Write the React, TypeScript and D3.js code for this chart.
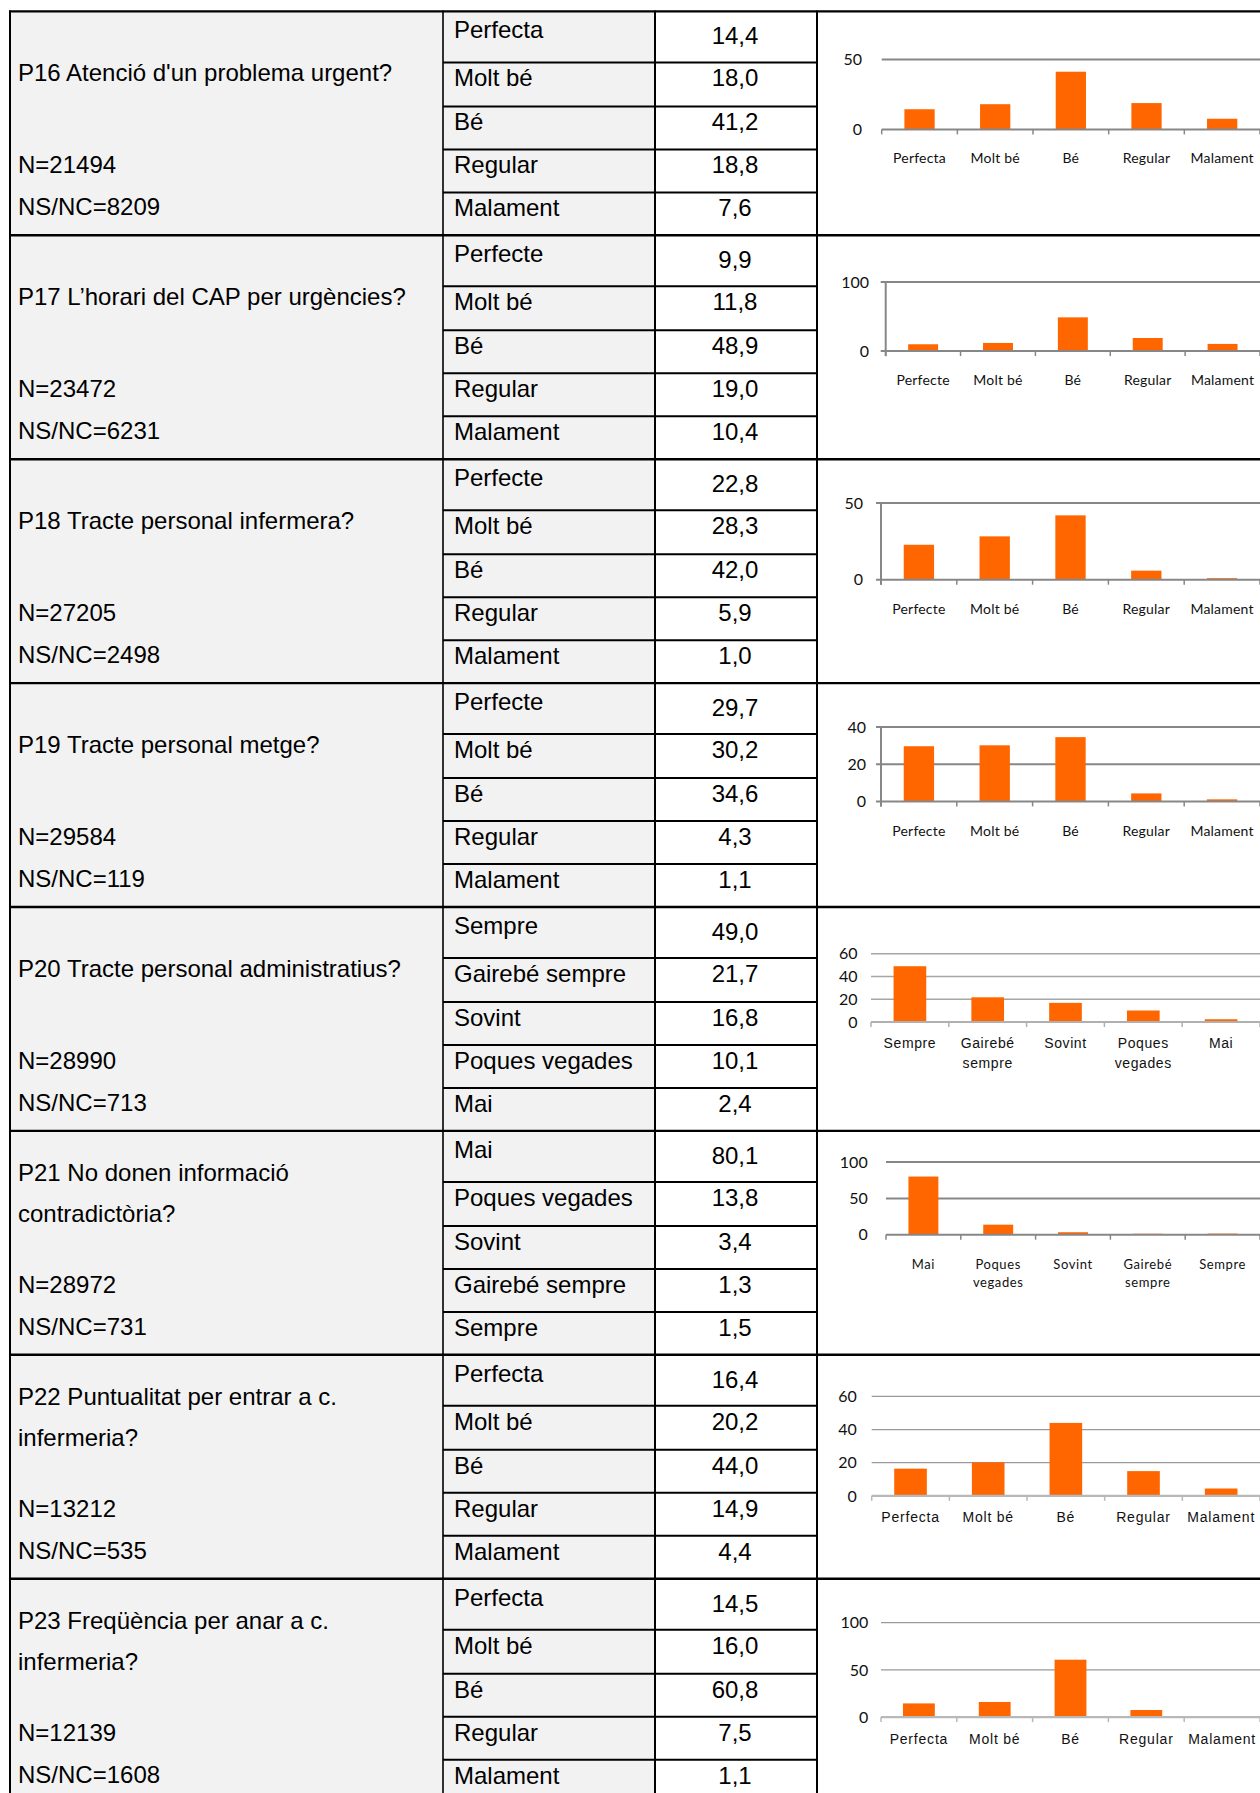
import React from 'react';
import * as d3 from 'd3';

// ---------- data ----------
const questionLines: string[][] = [
  ["P16 Atenció d'un problema urgent?"],
  ["P17 L’horari del CAP per urgències?"],
  ["P18 Tracte personal infermera?"],
  ["P19 Tracte personal metge?"],
  ["P20 Tracte personal administratius?"],
  ["P21 No donen informació", "contradictòria?"],
  ["P22 Puntualitat per entrar a c.", "infermeria?"],
  ["P23 Freqüència per anar a c.", "infermeria?"],
];
const nValues = [21494, 23472, 27205, 29584, 28990, 28972, 13212, 12139];
const nsncValues = [8209, 6231, 2498, 119, 713, 731, 535, 1608];

const catsPerfecta = ["Perfecta", "Molt bé", "Bé", "Regular", "Malament"];
const catsPerfecte = ["Perfecte", "Molt bé", "Bé", "Regular", "Malament"];
const catsSempre = ["Sempre", "Gairebé sempre", "Sovint", "Poques vegades", "Mai"];
const catsMai = ["Mai", "Poques vegades", "Sovint", "Gairebé sempre", "Sempre"];

const categories: string[][] = [
  catsPerfecta, catsPerfecte, catsPerfecte, catsPerfecte,
  catsSempre, catsMai, catsPerfecta, catsPerfecta,
];

const p16 = [14.4, 18.0, 41.2, 18.8, 7.6];
const p17 = [9.9, 11.8, 48.9, 19.0, 10.4];
const p18 = [22.8, 28.3, 42.0, 5.9, 1.0];
const p19 = [29.7, 30.2, 34.6, 4.3, 1.1];
const p20 = [49.0, 21.7, 16.8, 10.1, 2.4];
const p21 = [80.1, 13.8, 3.4, 1.3, 1.5];
const p22 = [16.4, 20.2, 44.0, 14.9, 4.4];
const p23 = [14.5, 16.0, 60.8, 7.5, 1.1];
const percentages = [p16, p17, p18, p19, p20, p21, p22, p23];

const yTicks: number[][] = [
  [0, 50], [0, 100], [0, 50], [0, 20, 40],
  [0, 20, 40, 60], [0, 50, 100], [0, 20, 40, 60], [0, 50, 100],
];

// ---------- layout (positions / styles) ----------
type Layout = {
  x0: number; yTop: number; yZero: number; labelY: number; lineGap: number;
  yLabelRight: number; vAxis: boolean; pad: number;
  gridColor: string; gridW: number; axisColor: string; axisW: number;
  xFont: string; xSize: number; xSpacing: number;
};
const calibri = "Lato, 'Open Sans', sans-serif";
const arial = "'Liberation Sans', Arial, sans-serif";
const styleA = { gridColor: '#878787', gridW: 2, axisColor: '#878787', axisW: 2, xFont: calibri, xSize: 14, xSpacing: 0.2 };
const layouts: Layout[] = [
  { x0: 881.7, yTop: 48, yZero: 118, labelY: 152, lineGap: 0, yLabelRight: 862, vAxis: false, pad: 0.6, ...styleA },
  { x0: 885.7, yTop: 46.8, yZero: 115.8, labelY: 150, lineGap: 0, yLabelRight: 869, vAxis: true, pad: 0.6, ...styleA },
  { x0: 881, yTop: 43.9, yZero: 120.5, labelY: 155, lineGap: 0, yLabelRight: 863, vAxis: true, pad: 0.6, ...styleA },
  { x0: 881, yTop: 44, yZero: 118.3, labelY: 153.3, lineGap: 0, yLabelRight: 866, vAxis: true, pad: 0.6, ...styleA },
  { x0: 871, yTop: 46.7, yZero: 115, labelY: 141.4, lineGap: 20, yLabelRight: 857.5, vAxis: false, pad: 0.58,
    gridColor: '#a6a6a6', gridW: 1.5, axisColor: '#b0b0b0', axisW: 2, xFont: arial, xSize: 14, xSpacing: 0.6 },
  { x0: 886, yTop: 31.2, yZero: 103.8, labelY: 138.5, lineGap: 17.5, yLabelRight: 867.7, vAxis: false, pad: 0.6,
    gridColor: '#878787', gridW: 2, axisColor: '#878787', axisW: 2, xFont: calibri, xSize: 13, xSpacing: 0.6 },
  { x0: 871.7, yTop: 41.6, yZero: 141, labelY: 167.3, lineGap: 0, yLabelRight: 856.7, vAxis: false, pad: 0.58,
    gridColor: '#9a9a9a', gridW: 1.2, axisColor: '#b8b8b8', axisW: 2.2, xFont: arial, xSize: 14, xSpacing: 0.8 },
  { x0: 881, yTop: 44, yZero: 138.4, labelY: 165.7, lineGap: 0, yLabelRight: 868.3, vAxis: false, pad: 0.58,
    gridColor: '#9a9a9a', gridW: 1.2, axisColor: '#b8b8b8', axisW: 2.2, xFont: arial, xSize: 14, xSpacing: 0.8 },
];

const W = 1260;
const H = 1793;
const ROW0 = 11.4;
const ROWH = 223.9;
const COLX = [10, 443, 655, 817];
const SUBOFF = [0, 51, 95, 138, 181, ROWH];
const BAR = '#ff6600';

const fmt = (v: number) => d3.format('.1f')(v).replace('.', ',');

function Chart({ i, top }: { i: number; top: number }) {
  const L = layouts[i];
  const cats = categories[i];
  const vals = percentages[i];
  const ticks = yTicks[i];
  const maxT = d3.max(ticks) as number;
  const y = d3.scaleLinear().domain([0, maxT]).range([top + L.yZero, top + L.yTop]);
  const x = d3.scaleBand<string>().domain(cats).range([L.x0, W]).paddingInner(L.pad).paddingOuter(L.pad / 2);
  const step = x.step();
  const bw = x.bandwidth();
  const gx0 = L.vAxis ? L.x0 - 5 : L.x0;
  const twoLine = L.lineGap > 0;
  return (
    <g>
      {ticks.filter(t => t > 0).map(t => (
        <line key={'g' + t} x1={gx0} x2={W} y1={y(t)} y2={y(t)} stroke={L.gridColor} strokeWidth={L.gridW} />
      ))}
      {cats.map((c, k) => {
        const v = vals[k];
        return (
          <rect key={'b' + k} x={x(c)} y={y(v)} width={bw} height={y(0) - y(v)} fill={BAR} />
        );
      })}
      <line x1={gx0} x2={W} y1={y(0)} y2={y(0)} stroke={L.axisColor} strokeWidth={L.axisW} />
      {L.vAxis && (
        <line x1={L.x0} x2={L.x0} y1={y(maxT)} y2={y(0) + 5} stroke={L.axisColor} strokeWidth={L.axisW} />
      )}
      {d3.range(cats.length + 1).map(k => (
        <line key={'t' + k} x1={L.x0 + k * step} x2={L.x0 + k * step} y1={y(0)} y2={y(0) + 5}
          stroke={L.axisColor} strokeWidth={1.5} />
      ))}
      {ticks.map(t => (
        <text key={'y' + t} x={L.yLabelRight} y={y(t)} dy="0.36em" textAnchor="end"
          fontFamily={calibri} fontSize={16} fill="#111">{t}</text>
      ))}
      {cats.map((c, k) => {
        const cx = (x(c) as number) + bw / 2;
        const words = twoLine && c.includes(' ') ? c.split(' ') : [c];
        return (
          <text key={'x' + k} x={cx} y={top + L.labelY} textAnchor="middle" fontFamily={L.xFont}
            fontSize={L.xSize} letterSpacing={L.xSpacing} fill="#111">
            {words.map((w, j) => (
              <tspan key={j} x={cx} dy={j === 0 ? 0 : L.lineGap}>{w}</tspan>
            ))}
          </text>
        );
      })}
    </g>
  );
}

export default function App() {
  const rows = d3.range(questionLines.length);
  return (
    <svg width={W} height={H} viewBox={`0 0 ${W} ${H}`}
      style={{ position: 'absolute', left: 0, top: 0, display: 'block', background: '#fff' }}>
      <rect x={0} y={0} width={W} height={H} fill="#fff" />
      {rows.map(i => {
        const top = ROW0 + i * ROWH;
        const q = questionLines[i];
        const qBase = q.length === 1 ? [70] : [50, 91];
        const labels = categories[i];
        const vals = percentages[i];
        return (
          <g key={i}>
            <rect x={COLX[0]} y={top} width={COLX[1] - COLX[0]} height={ROWH} fill="#f2f2f2" />
            <rect x={COLX[1]} y={top} width={COLX[2] - COLX[1]} height={ROWH} fill="#f2f2f2" />
            <g fontFamily={arial} fontSize={24} fill="#000">
              {q.map((line, j) => (
                <text key={j} x={18} y={top + qBase[j]}>{line}</text>
              ))}
              <text x={18} y={top + 162}>{`N=${nValues[i]}`}</text>
              <text x={18} y={top + 204}>{`NS/NC=${nsncValues[i]}`}</text>
              {labels.map((lab, k) => (
                <text key={'l' + k} x={454} y={top + SUBOFF[k] + (k === 0 ? 27 : 24)}>{lab}</text>
              ))}
              {vals.map((v, k) => (
                <text key={'v' + k} x={735} y={top + SUBOFF[k] + (k === 0 ? 33 : 24)} textAnchor="middle">{fmt(v)}</text>
              ))}
            </g>
            <Chart i={i} top={top} />
            {SUBOFF.slice(1, 5).map((o, k) => (
              <line key={'s' + k} x1={COLX[1]} x2={COLX[3]} y1={top + o} y2={top + o} stroke="#000" strokeWidth={2} />
            ))}
            <line x1={COLX[0] - 1} x2={W} y1={top} y2={top} stroke="#000" strokeWidth={2.4} />
          </g>
        );
      })}
      {COLX.map((cx, k) => (
        <line key={'c' + k} x1={cx} x2={cx} y1={ROW0 - 1} y2={H} stroke="#000" strokeWidth={k === 1 ? 1.6 : 2} />
      ))}
    </svg>
  );
}
